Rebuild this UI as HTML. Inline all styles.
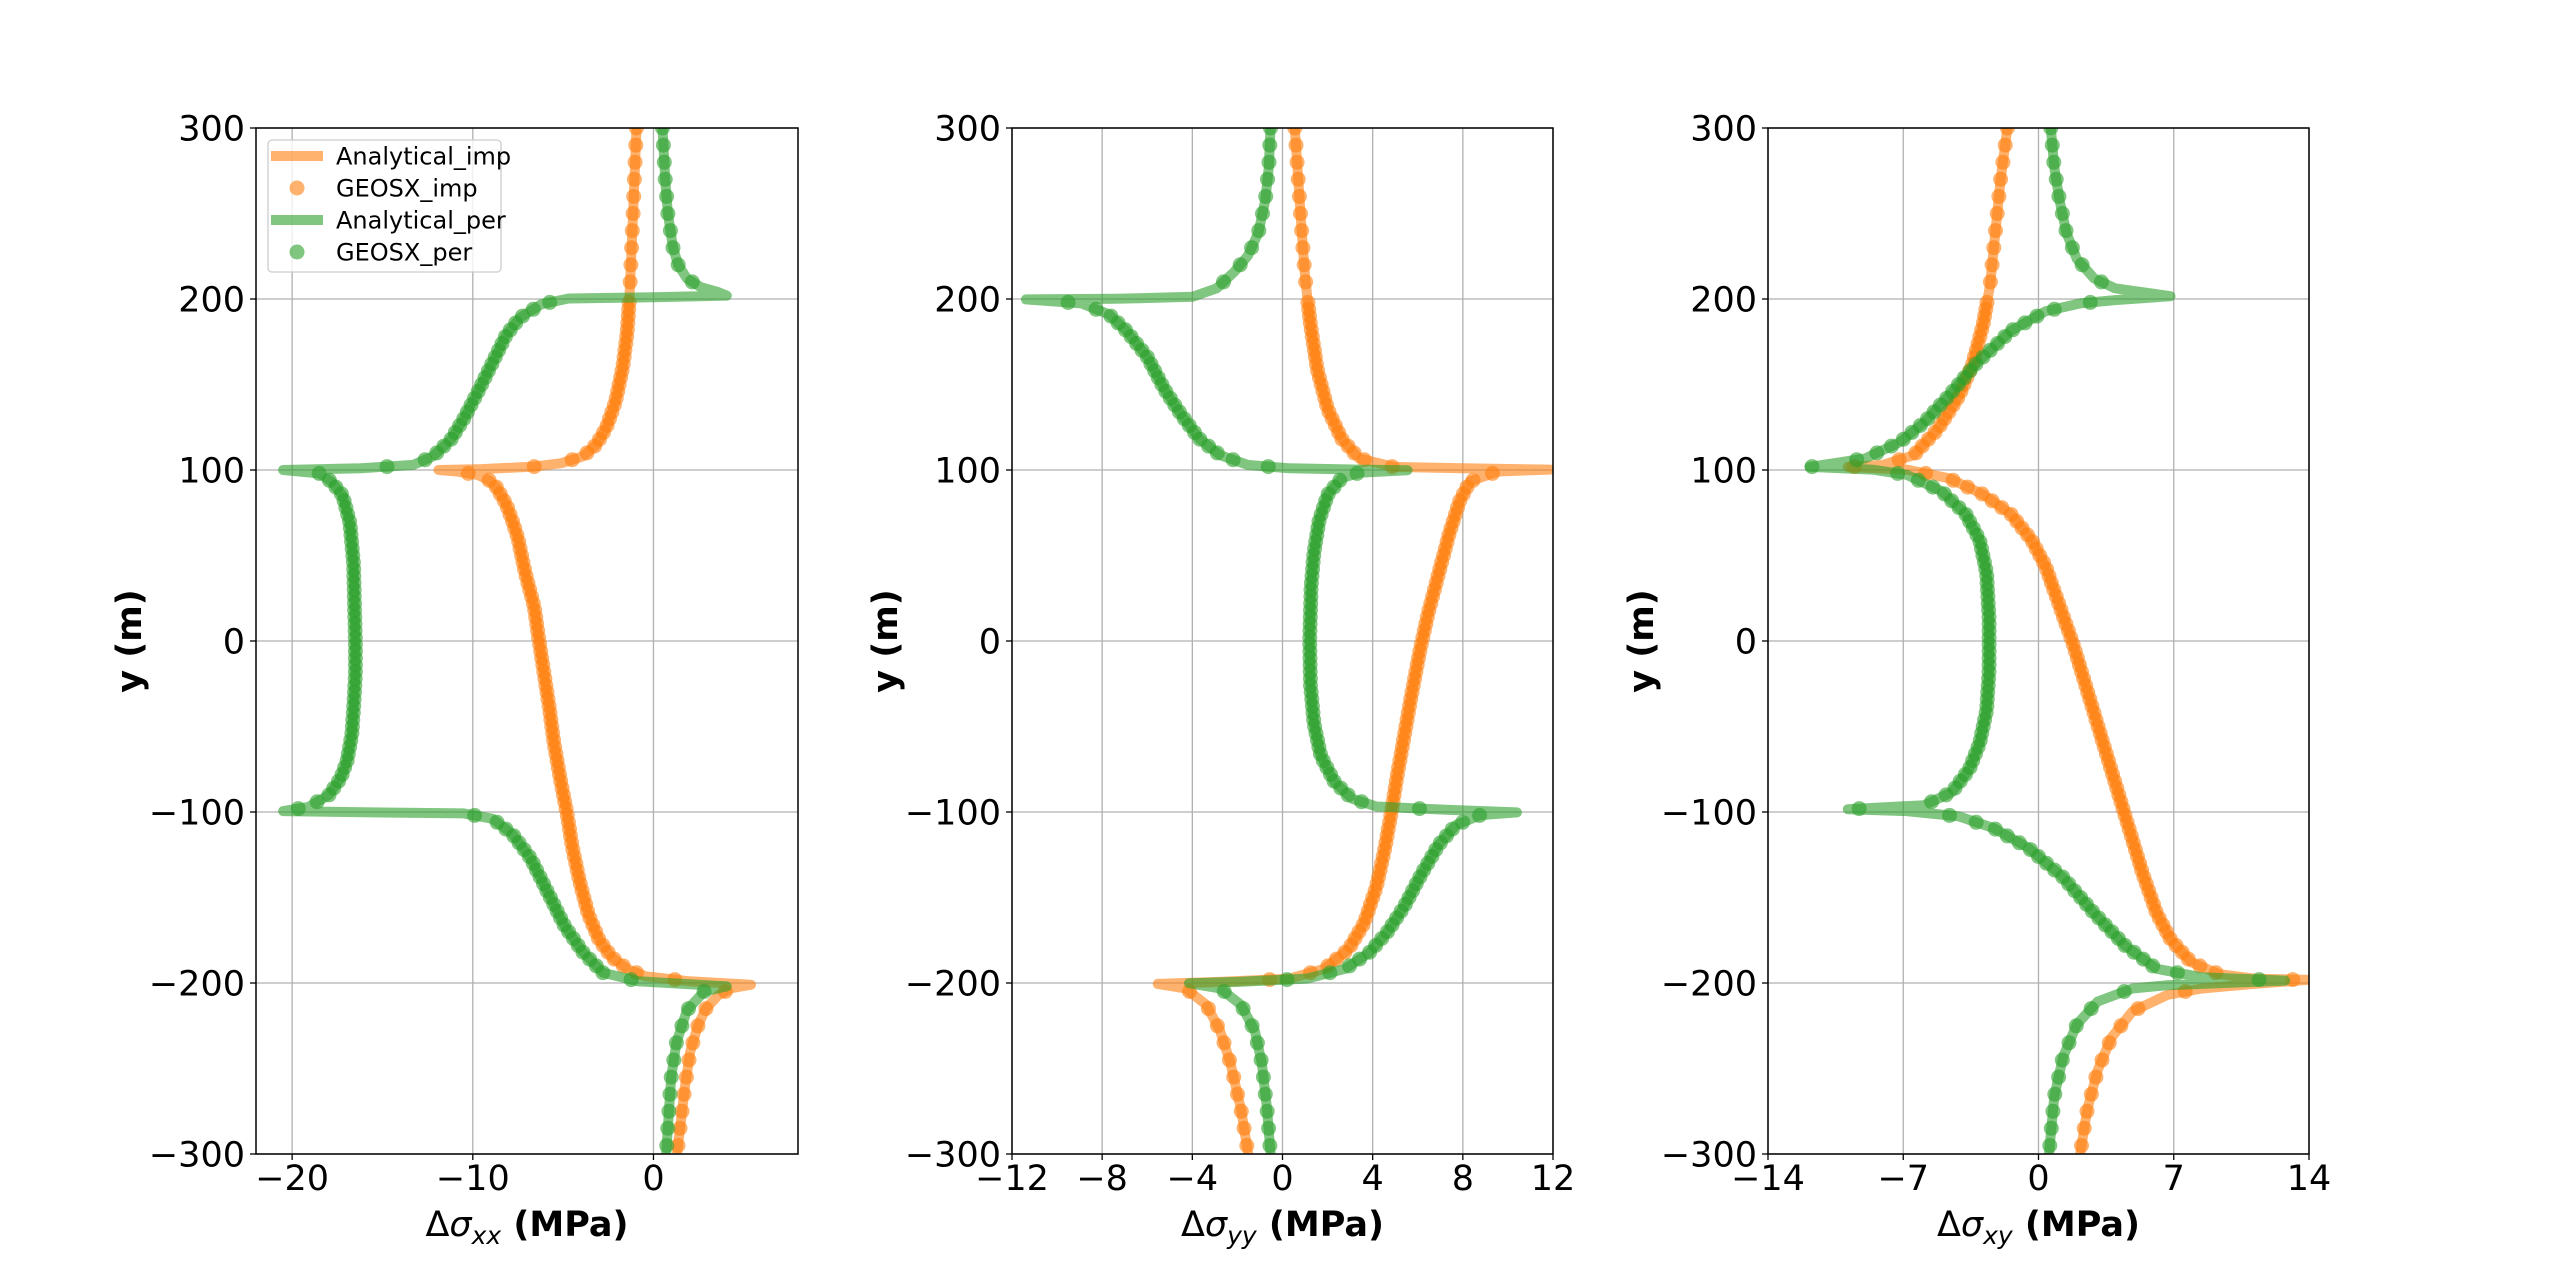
<!DOCTYPE html>
<html><head><meta charset="utf-8"><style>
html,body{margin:0;padding:0;background:#fff;}
svg{display:block;}
text{font-family:"DejaVu Sans","Liberation Sans",sans-serif;fill:#000;}
</style></head><body>
<svg id="s" width="2560" height="1280" viewBox="0 0 2560 1280" xmlns="http://www.w3.org/2000/svg"></svg>
<script>
const S=document.getElementById('s');
const T=128,B=1154,H=B-T;
const PY=v=>T+(300-v)/600*H;
const panels=[
 {x0:256,w:542,min:-22,max:8,ticks:[-20,-10,0],sub:'xx'},
 {x0:1012,w:541,min:-12,max:12,ticks:[-12,-8,-4,0,4,8,12],sub:'yy'},
 {x0:1768,w:541,min:-14,max:14,ticks:[-14,-7,0,7,14],sub:'xy'}];
let h='';
const OR='#ff7f0e',GR='#2ca02c';
function fmt(n){return n<0?'\u2212'+(-n):''+n;}
const p1=panels[0];
const v2p=(arr)=>arr.map(([y,x])=>[p1.x0+(x-p1.min)/(p1.max-p1.min)*p1.w,PY(y)]);
const z2=(x0)=>(arr)=>arr.map(([px,py])=>[x0+px*541/1559,T+py*1026/1568]);
const curves=[
 [0,OR,v2p([[300,-0.94],[250,-1.13],[200,-1.33],[180,-1.46],[160,-1.7],[140,-2.1],[125,-2.6],[115,-3.15],[108,-3.9],[104,-5.1],[102,-6.6],[100.5,-9.5],[100,-11.9],[99,-10.8],[97,-9.7],[94,-9.1],[90,-8.7],[80,-8.15],[70,-7.8],[60,-7.5],[40,-7.1],[20,-6.6],[0,-6.33],[-20,-6.04],[-40,-5.75],[-60,-5.5],[-80,-5.17],[-100,-4.8],[-120,-4.5],[-140,-4.1],[-160,-3.6],[-175,-3.0],[-185,-2.3],[-192,-1.42],[-196,-0.46],[-199,2],[-201,5.4],[-203,4.35],[-207,3.6],[-215,2.9],[-225,2.46],[-240,2.04],[-260,1.75],[-300,1.3]])],
 [0,GR,v2p([[300,0.5],[270,0.65],[250,0.8],[230,1.08],[220,1.37],[212,1.85],[207,2.6],[204,3.6],[202,4.06],[201,0],[200.3,-4.7],[197,-6.2],[189,-7.4],[179,-8.15],[163,-8.9],[146,-9.7],[130,-10.5],[118,-11.2],[108,-12.2],[103,-13.3],[101,-16.2],[100,-20.5],[98,-18.5],[93,-17.8],[85,-17.2],[69,-16.8],[45,-16.6],[0,-16.5],[-20,-16.5],[-40,-16.6],[-55,-16.7],[-70,-16.96],[-80,-17.3],[-90,-17.96],[-97,-19.1],[-99.5,-20.5],[-100.3,-15],[-100.8,-10.5],[-104,-8.9],[-113,-7.8],[-127,-6.8],[-147,-5.85],[-167,-4.9],[-182,-3.9],[-194,-2.8],[-199,-0.85],[-202,4.06],[-205,2.8],[-216,1.85],[-235,1.27],[-255,0.98],[-300,0.7]])],
 [1,OR,z2(1012)([[815,0],[825,80],[835,160],[845,230],[860,300],[880,370],[910,430],[950,475],[1000,505],[1100,518],[1300,520],[1550,522],[1400,525],[1320,540],[1290,570],[1260,620],[1230,680],[1200,740],[1175,800],[1150,870],[1130,930],[1110,990],[1095,1040],[1075,1100],[1050,1160],[1015,1215],[970,1255],[900,1285],[800,1300],[600,1305],[420,1308],[500,1315],[560,1340],[600,1380],[630,1430],[660,1500],[680,1566]])],
 [1,GR,z2(1012)([[745,0],[740,60],[730,110],[710,160],[680,195],[640,220],[590,245],[520,258],[300,261],[40,262],[200,268],[280,285],[330,310],[390,350],[440,400],[490,440],[540,475],[600,500],[680,515],[800,520],[1000,522],[1140,523],[1000,527],[950,535],[910,560],[885,600],[870,650],[862,700],[858,780],[860,850],[870,910],[890,960],[930,1000],[980,1025],[1050,1037],[1250,1042],[1455,1046],[1350,1050],[1280,1065],[1230,1095],[1180,1140],[1130,1190],[1080,1230],[1030,1260],[960,1285],[850,1300],[650,1305],[510,1307],[600,1315],[660,1340],[700,1380],[720,1430],[735,1500],[745,1566]])],
 [2,OR,z2(1768)([[690,0],[670,80],[655,160],[640,240],[620,300],[590,360],[550,410],[490,460],[420,500],[330,515],[230,518],[400,522],[520,535],[620,560],[700,590],[760,630],[800,670],[840,730],[880,790],[920,860],[960,930],[1000,1000],[1040,1070],[1080,1140],[1120,1200],[1160,1240],[1220,1275],[1300,1293],[1400,1300],[1556,1302],[1400,1308],[1250,1315],[1150,1325],[1050,1350],[990,1390],[950,1440],[920,1500],[900,1566]])],
 [2,GR,z2(1768)([[815,0],[825,60],[840,110],[860,160],[890,200],[940,230],[1000,245],[1160,257],[1000,263],[900,268],[800,280],[700,310],[600,360],[520,410],[450,450],[380,480],[280,505],[120,518],[300,522],[400,530],[500,555],[570,590],[610,630],[630,680],[637,750],[637,830],[630,890],[610,940],[580,980],[530,1015],[450,1035],[230,1041],[400,1044],[550,1052],[650,1070],[750,1100],[850,1145],[940,1200],[1030,1250],[1120,1285],[1250,1298],[1490,1303],[1150,1310],[1050,1315],[950,1335],[890,1370],[850,1420],[825,1480],[810,1566]])]
];
panels.forEach((p,i)=>{
 const X=v=>p.x0+(v-p.min)/(p.max-p.min)*p.w;
 h+=`<clipPath id="c${i}"><rect x="${p.x0}" y="${T}" width="${p.w}" height="${H}"/></clipPath>`;
 p.ticks.forEach(t=>{const x=X(t);h+=`<line x1="${x}" y1="${T}" x2="${x}" y2="${B}" stroke="#b0b0b0" stroke-width="1.3"/>`;
  h+=`<line x1="${x}" y1="${B}" x2="${x}" y2="${B+6}" stroke="#000" stroke-width="1.3"/>`;
  h+=`<text x="${x}" y="${B+36}" font-size="35" text-anchor="middle">${fmt(t)}</text>`;});
 for(let v=-300;v<=300;v+=100){const y=PY(v);
  h+=`<line x1="${p.x0}" y1="${y}" x2="${p.x0+p.w}" y2="${y}" stroke="#b0b0b0" stroke-width="1.3"/>`;
  h+=`<line x1="${p.x0-6}" y1="${y}" x2="${p.x0}" y2="${y}" stroke="#000" stroke-width="1.3"/>`;
  h+=`<text x="${p.x0-11}" y="${y+12.5}" font-size="35" text-anchor="end">${fmt(v)}</text>`;}
 h+=`<text transform="translate(${p.x0-115},${(T+B)/2}) rotate(-90)" font-size="35" font-weight="bold" text-anchor="middle">y (m)</text>`;
 h+=`<text x="${p.x0+p.w/2}" y="${B+82}" font-size="35" text-anchor="middle">Δ<tspan font-style="italic">σ</tspan><tspan font-style="italic" font-size="25" dy="8">${p.sub}</tspan><tspan dy="-8" font-weight="bold"> (MPa)</tspan></text>`;
});
function interp(pts,y){for(let k=0;k<pts.length-1;k++){const a=pts[k],b=pts[k+1];if((y>=a[1]&&y<=b[1])||(y<=a[1]&&y>=b[1])){const t=b[1]==a[1]?0:(y-a[1])/(b[1]-a[1]);return a[0]+t*(b[0]-a[0]);}}return null;}
const dv=[];for(let v=300;v>200;v-=10)dv.push(v);for(let v=198;v>-200;v-=4)dv.push(v);for(let v=-205;v>=-300;v-=10)dv.push(v);
curves.forEach(([i,c,pts])=>{
 h+=`<g clip-path="url(#c${i})">`;
 h+=`<polyline points="${pts.map(p=>p[0].toFixed(1)+','+p[1].toFixed(1)).join(' ')}" fill="none" stroke="${c}" stroke-opacity="0.6" stroke-width="10" stroke-linejoin="round" stroke-linecap="round"/>`;
 dv.forEach(v=>{const y=PY(v);const x=interp(pts,y);if(x!==null)h+=`<circle cx="${x.toFixed(1)}" cy="${y.toFixed(1)}" r="7.5" fill="${c}" fill-opacity="0.6"/>`;});
 h+='</g>';
});
panels.forEach(p=>{h+=`<rect x="${p.x0}" y="${T}" width="${p.w}" height="${H}" fill="none" stroke="#000" stroke-width="1.5"/>`;});
h+=`<rect x="268" y="140" width="233" height="132" rx="4" fill="#fff" fill-opacity="0.8" stroke="#ccc" stroke-width="1.3"/>`;
const L=[['Analytical_imp',OR,0],['GEOSX_imp',OR,1],['Analytical_per',GR,0],['GEOSX_per',GR,1]];
L.forEach(([t,c,d],k)=>{const y=156+k*32;
 if(d)h+=`<circle cx="297" cy="${y}" r="7.5" fill="${c}" fill-opacity="0.6"/>`;
 else h+=`<line x1="271" y1="${y}" x2="323" y2="${y}" stroke="${c}" stroke-opacity="0.6" stroke-width="10"/>`;
 h+=`<text x="336" y="${y+8.5}" font-size="24">${t}</text>`;});
S.innerHTML=h;
</script>
</body></html>
